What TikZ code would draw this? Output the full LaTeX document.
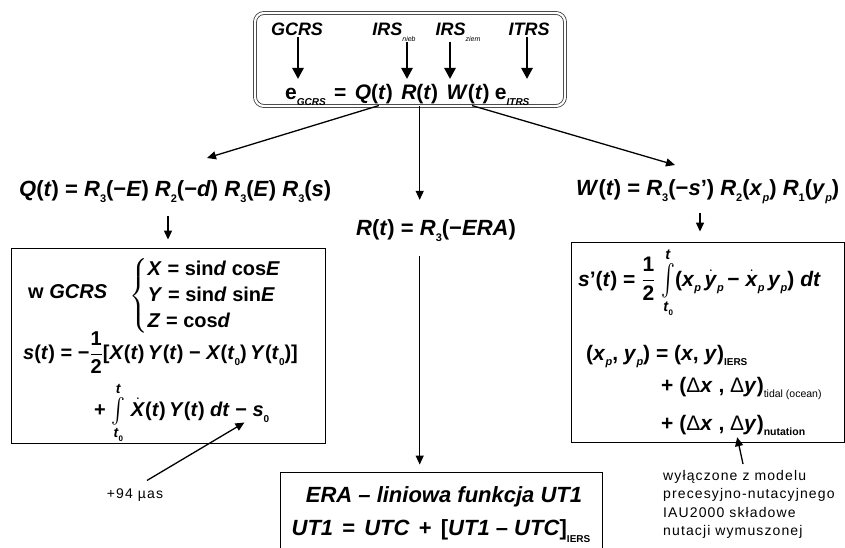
\documentclass[tikz,border=0pt]{standalone}
\usepackage{amsmath}
\usepackage{fontspec}
\setmainfont{Liberation Sans}
\newfontfamily\notefont[LetterSpace=8]{Liberation Sans}
\usetikzlibrary{arrows.meta, positioning}

\newcommand{\lowtxt}[2][10]{\raisebox{-0.28em}{\fontsize{#1}{#1}\selectfont #2}}
\newcommand{\tallint}[1]{\mathop{\vcenter{\hbox{\scalebox{1}[#1]{$\int$}}}}\limits}

\begin{document}
\begin{tikzpicture}[
  x=1pt, y=-1pt,
  node distance=6pt,
  eq/.style={font=\fontsize{20}{26}\selectfont\bfseries, inner sep=1pt, anchor=base west},
  bigeq/.style={eq, font=\fontsize{22}{26}\selectfont\bfseries},
  topeq/.style={eq, font=\fontsize{21}{26}\selectfont\bfseries},
  lbl/.style={font=\fontsize{18}{20}\selectfont\bfseries\itshape, inner sep=1pt, anchor=base},
  note/.style={font=\fontsize{14}{18.5}\selectfont\notefont, align=left, inner sep=0pt},
  panel/.style={draw, line width=0.9pt},
  frame/.style={draw=black!80, double, double distance=2.2pt, line width=0.8pt, rounded corners=9pt},
  arr/.style={-{Triangle[length=9pt,width=8pt]}, line width=1.3pt},
  bigarr/.style={-{Triangle[length=11pt,width=11pt]}, line width=2.6pt},
]
\useasboundingbox (0,0) rectangle (845,548);
\clip (0,0) rectangle (845,548);

\node[frame, minimum width=310, minimum height=93] (top) at (410,59.5) {};
\node[lbl] (lgcrs) at (297,36) {GCRS};
\node[lbl] (lnieb) at (394,36) {IRS\lowtxt[7]{\mdseries nieb}};
\node[lbl] (lziem) at (458,36) {IRS\lowtxt[7]{\mdseries ziem}};
\node[lbl] (litrs) at (529,36) {ITRS};

\node[topeq] (egcrs) at (284,100) {e\lowtxt{\textit{GCRS}}};
\node[topeq, base right=of egcrs] (eqsign) {=};
\node[topeq, base right=of eqsign] (Qt) {\textit{Q}(\textit{t})};
\node[topeq, base right=of Qt] (Rt) {\textit{R}(\textit{t})};
\node[topeq, base right=of Rt] (Wt) {\textit{W}(\textit{t})};
\node[topeq, base right=3pt of Wt] (eitrs) {e\lowtxt{\textit{ITRS}}};

\coordinate (tgcrs) at (298,79);
\coordinate (tnieb) at (407,79);
\coordinate (tziem) at (450,79);
\coordinate (titrs) at (527,79);
\coordinate (qtip) at (207,158);
\coordinate (wtip) at (675,165);

\node[bigeq] (qeq) at (18,196.5) {\textit{Q}(\textit{t}) = \textit{R}\lowtxt[11]{3}(−\textit{E}) \textit{R}\lowtxt[11]{2}(−\textit{d}) \textit{R}\lowtxt[11]{3}(\textit{E}) \textit{R}\lowtxt[11]{3}(\textit{s})};
\node[bigeq] (req) at (355,235) {\textit{R}(\textit{t}) = \textit{R}\lowtxt[11]{3}(−\textit{ERA})};
\node[bigeq] (weq) at (575,195) {\textit{W}(\textit{t}) = \textit{R}\lowtxt[11]{3}(−\textit{s}') \textit{R}\lowtxt[11]{2}(\textit{x}\lowtxt[11]{\textit{p}}) \textit{R}\lowtxt[11]{1}(\textit{y}\lowtxt[11]{\textit{p}})};

\node[panel, minimum width=314, minimum height=195] (qbox) at (168,345.5) {};
\node[eq] (wgcrs) at (27,298.5) {w \textit{GCRS}};
\node[eq, anchor=west] (xyz) at (128,296) {$\left\{\begin{tabular}{@{}l@{}}\textit{X} = sin\textit{d} cos\textit{E}\\ \textit{Y} = sin\textit{d} sin\textit{E}\\ \textit{Z} = cos\textit{d}\end{tabular}\right.$};
\node[eq] (sdef) at (22,359.5) {\textit{s}(\textit{t}) = −$\dfrac{\text{1}}{\text{2}}$[\textit{X}(\textit{t})\,\textit{Y}(\textit{t}) − \textit{X}(\textit{t}\lowtxt{0})\,\textit{Y}(\textit{t}\lowtxt{0})]};
\node[eq] (sint) at (93,416.5) {+ $\tallint{1.2}_{\text{\textit{t}\lowtxt[8]{0}}}^{\text{\textit{t}}}$ $\dot{\text{\textit{X}}}$(\textit{t})\,\textit{Y}(\textit{t}) \textit{dt} − \textit{s}\lowtxt{0}};

\node[panel, minimum width=273, minimum height=200] (wbox) at (707.5,342) {};
\node[eq, font=\fontsize{21}{26}\selectfont\bfseries] (sprime) at (577,286) {\textit{s}'(\textit{t}) = $\dfrac{\text{1}}{\text{2}}$\ $\tallint{1.5}_{\text{\textit{t}\lowtxt[8]{0}}}^{\text{\textit{t}}}$(\textit{x}\lowtxt[11]{\textit{p}}\,$\dot{\text{\textit{y}}}$\lowtxt[11]{\textit{p}}\,− $\dot{\text{\textit{x}}}$\lowtxt[11]{\textit{p}}\,\textit{y}\lowtxt[11]{\textit{p}}) \textit{dt}};
\node[eq, font=\fontsize{21}{26}\selectfont\bfseries] (xpyp) at (585,360) {(\textit{x}\lowtxt[11]{\textit{p}}, \textit{y}\lowtxt[11]{\textit{p}}) = (\textit{x}, \textit{y})\lowtxt[10]{IERS}};
\node[eq, font=\fontsize{21}{26}\selectfont\bfseries] (tidal) at (660,392) {+ (\textmd{Δ}\textit{x} , \textmd{Δ}\textit{y})\lowtxt[10.5]{\mdseries tidal (ocean)}};
\node[eq, font=\fontsize{21}{26}\selectfont\bfseries] (nut) at (660,430) {+ (\textmd{Δ}\textit{x} , \textmd{Δ}\textit{y})\lowtxt[10.5]{nutation}};

\node[panel, minimum width=322, minimum height=93] (erabox) at (441,518.5) {};
\node[bigeq, anchor=center, font=\fontsize{22}{26}\selectfont\bfseries\itshape] (era) at (444,497) {ERA – liniowa funkcja UT1};
\node[bigeq, anchor=center] (ut) at (441,531) {\textit{UT1}\hspace{3pt} = \hspace{3pt}\textit{UTC}\hspace{3pt} + \hspace{3pt}[\textit{UT1} – \textit{UTC}]\lowtxt[10]{IERS}};

\node[note] (mu) at (135,495) {+94 µas};
\node[note, anchor=north west] (wyl) at (663,470) {wyłączone z modelu\\precesyjno-nutacyjnego\\IAU2000 składowe\\nutacji wymuszonej};

\draw[bigarr] (lgcrs.south -| tgcrs) -- (tgcrs);
\draw[bigarr] (lnieb.south -| tnieb) -- (tnieb);
\draw[bigarr] (lziem.south -| tziem) -- (tziem);
\draw[bigarr] (litrs.south -| titrs) -- (titrs);

\draw[arr] ([xshift=5pt]Qt.south) -- (qtip);
\draw[arr, shorten >=18pt] (Rt.south) -- (Rt.south |- req.north);
\draw[arr] ([xshift=4pt]Wt.south) -- (wtip);
\draw[arr, shorten <=12pt, shorten >=8pt] (qeq.south -| qbox.north) -- (qbox.north);
\draw[arr, shorten <=14pt, shorten >=7pt] (req.south -| Rt.south) -- (erabox.north -| Rt.south);
\draw[arr, shorten <=8pt, shorten >=10pt] (weq.south -| 700,0) -- (wbox.north -| 700,0);

\draw[arr] ([xshift=12pt,yshift=8pt]mu.north) -- ([xshift=-26pt,yshift=-6pt]sint.base east);
\draw[arr] ([xshift=80pt,yshift=6pt]wyl.north west) -- ([xshift=4pt]nut.south);
\end{tikzpicture}
\end{document}
